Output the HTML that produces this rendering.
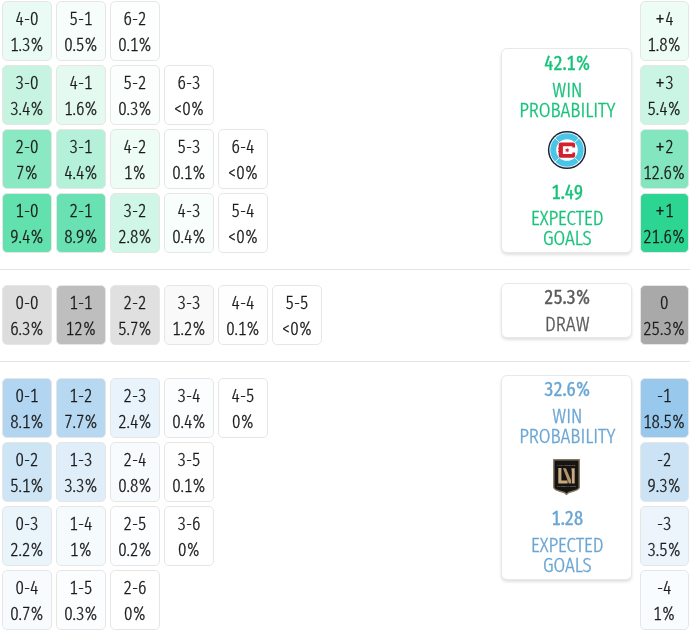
<!DOCTYPE html>
<html><head><meta charset="utf-8"><style>
html,body{margin:0;padding:0;background:#fff;width:690px;height:632px;overflow:hidden;position:relative}
body{font-family:'Fira Sans Extra Condensed', 'Liberation Sans Narrow', 'Liberation Sans', sans-serif;color:#1a1a1a}
#root{position:absolute;left:0;top:0;width:690px;height:632px;will-change:transform}
.c{position:absolute;width:50px;box-sizing:border-box;border:1px solid #e6e6e6;border-radius:5px;text-align:center;font-size:18.3px;font-weight:300;font-variant-numeric:tabular-nums;-webkit-text-stroke:0.3px currentColor}
.c.r{width:48.5px}
.p{font-style:normal;font-size:23px;position:relative;top:2.2px;line-height:0}
.c span{position:absolute;left:0;right:0;line-height:20px;white-space:nowrap}
.c span:first-child{top:7px}
.c span:last-child{top:32.6px}
.hr{position:absolute;left:0;width:690px;height:1px;background:#e4e4e4}
.box{position:absolute;left:501px;width:130.6px;box-sizing:border-box;background:#fff;border:1px solid #e8e8e8;border-radius:6px;box-shadow:0 2px 3px rgba(0,0,0,0.12);text-align:center}
.box div{position:absolute;left:1px;right:-1px;white-space:nowrap;font-size:20.6px;font-weight:300;line-height:20px;-webkit-text-stroke:0.35px currentColor}
.box div.b{font-weight:400;font-size:19.8px;font-variant-numeric:tabular-nums;-webkit-text-stroke:0.35px currentColor}
.box div.lg{left:calc(50% + 0.7px);right:auto}
.lg svg{display:block}
.home{color:#17c27a}
.away{color:#6aa6d4}
.draw{color:#5a5a5a}
</style></head><body><div id="root">
<div class="c" style="left:2px;top:1px;height:59.5px;background:#e9fbf4"><span>4-0</span><span>1.3%</span></div><div class="c" style="left:56px;top:1px;height:59.5px;background:#f7fdfb"><span>5-1</span><span>0.5%</span></div><div class="c" style="left:110px;top:1px;height:59.5px;background:#fdfffe"><span>6-2</span><span>0.1%</span></div><div class="c" style="left:2px;top:65px;height:59.5px;background:#c6f4e1"><span>3-0</span><span>3.4%</span></div><div class="c" style="left:56px;top:65px;height:59.5px;background:#e4faf1"><span>4-1</span><span>1.6%</span></div><div class="c" style="left:110px;top:65px;height:59.5px;background:#fafefc"><span>5-2</span><span>0.3%</span></div><div class="c" style="left:164px;top:65px;height:59.5px;background:#ffffff"><span>6-3</span><span>&lt;0%</span></div><div class="c" style="left:2px;top:129px;height:59.5px;background:#8ae8c2"><span>2-0</span><span>7%</span></div><div class="c" style="left:56px;top:129px;height:59.5px;background:#b5f0d9"><span>3-1</span><span>4.4%</span></div><div class="c" style="left:110px;top:129px;height:59.5px;background:#eefcf6"><span>4-2</span><span>1%</span></div><div class="c" style="left:164px;top:129px;height:59.5px;background:#fdfffe"><span>5-3</span><span>0.1%</span></div><div class="c" style="left:218px;top:129px;height:59.5px;background:#ffffff"><span>6-4</span><span>&lt;0%</span></div><div class="c" style="left:2px;top:193px;height:59.5px;background:#62e0ad"><span>1-0</span><span>9.4%</span></div><div class="c" style="left:56px;top:193px;height:59.5px;background:#6ae1b2"><span>2-1</span><span>8.9%</span></div><div class="c" style="left:110px;top:193px;height:59.5px;background:#d0f6e7"><span>3-2</span><span>2.8%</span></div><div class="c" style="left:164px;top:193px;height:59.5px;background:#f8fefc"><span>4-3</span><span>0.4%</span></div><div class="c" style="left:218px;top:193px;height:59.5px;background:#ffffff"><span>5-4</span><span>&lt;0%</span></div><div class="c" style="left:2px;top:285px;height:59.5px;background:#dddddd"><span>0-0</span><span>6.3%</span></div><div class="c" style="left:56px;top:285px;height:59.5px;background:#bebebe"><span>1-1</span><span>12%</span></div><div class="c" style="left:110px;top:285px;height:59.5px;background:#e0e0e0"><span>2-2</span><span>5.7%</span></div><div class="c" style="left:164px;top:285px;height:59.5px;background:#f9f9f9"><span>3-3</span><span>1.2%</span></div><div class="c" style="left:218px;top:285px;height:59.5px;background:#fefefe"><span>4-4</span><span>0.1%</span></div><div class="c" style="left:272px;top:285px;height:59.5px;background:#ffffff"><span>5-5</span><span>&lt;0%</span></div><div class="c" style="left:2px;top:378px;height:59.5px;background:#b2d6f1"><span>0-1</span><span>8.1%</span></div><div class="c" style="left:56px;top:378px;height:59.5px;background:#b6d8f1"><span>1-2</span><span>7.7%</span></div><div class="c" style="left:110px;top:378px;height:59.5px;background:#e8f3fb"><span>2-3</span><span>2.4%</span></div><div class="c" style="left:164px;top:378px;height:59.5px;background:#fbfdfe"><span>3-4</span><span>0.4%</span></div><div class="c" style="left:218px;top:378px;height:59.5px;background:#ffffff"><span>4-5</span><span>0%</span></div><div class="c" style="left:2px;top:442px;height:59.5px;background:#cee5f6"><span>0-2</span><span>5.1%</span></div><div class="c" style="left:56px;top:442px;height:59.5px;background:#e0eef9"><span>1-3</span><span>3.3%</span></div><div class="c" style="left:110px;top:442px;height:59.5px;background:#f7fbfe"><span>2-4</span><span>0.8%</span></div><div class="c" style="left:164px;top:442px;height:59.5px;background:#fefeff"><span>3-5</span><span>0.1%</span></div><div class="c" style="left:2px;top:506px;height:59.5px;background:#eaf4fb"><span>0-3</span><span>2.2%</span></div><div class="c" style="left:56px;top:506px;height:59.5px;background:#f5fafd"><span>1-4</span><span>1%</span></div><div class="c" style="left:110px;top:506px;height:59.5px;background:#fdfeff"><span>2-5</span><span>0.2%</span></div><div class="c" style="left:164px;top:506px;height:59.5px;background:#ffffff"><span>3-6</span><span>0%</span></div><div class="c" style="left:2px;top:570px;height:59.5px;background:#f8fbfe"><span>0-4</span><span>0.7%</span></div><div class="c" style="left:56px;top:570px;height:59.5px;background:#fcfdfe"><span>1-5</span><span>0.3%</span></div><div class="c" style="left:110px;top:570px;height:59.5px;background:#ffffff"><span>2-6</span><span>0%</span></div><div class="c r" style="left:640px;top:1px;height:59.5px;background:#eefcf6"><span><i class="p">+</i>4</span><span>1.8%</span></div><div class="c r" style="left:640px;top:65px;height:59.5px;background:#caf4e4"><span><i class="p">+</i>3</span><span>5.4%</span></div><div class="c r" style="left:640px;top:129px;height:59.5px;background:#84e6bf"><span><i class="p">+</i>2</span><span>12.6%</span></div><div class="c r" style="left:640px;top:193px;height:59.5px;background:#2dd592"><span><i class="p">+</i>1</span><span>21.6%</span></div><div class="c r" style="left:640px;top:285px;height:59.5px;background:#a9a9a9"><span>0</span><span>25.3%</span></div><div class="c r" style="left:640px;top:378px;height:59.5px;background:#98c8ec"><span>-1</span><span>18.5%</span></div><div class="c r" style="left:640px;top:442px;height:59.5px;background:#cbe3f5"><span>-2</span><span>9.3%</span></div><div class="c r" style="left:640px;top:506px;height:59.5px;background:#ecf5fb"><span>-3</span><span>3.5%</span></div><div class="c r" style="left:640px;top:570px;height:59.5px;background:#f9fcfe"><span>-4</span><span>1%</span></div>
<div class="hr" style="top:269px"></div>
<div class="hr" style="top:361px"></div>
<div class="box home" style="top:48px;height:204.5px">
 <div class="b" style="top:3.8px">42.1%</div>
 <div style="top:30.6px">WIN</div>
 <div style="top:50.6px">PROBABILITY</div>
 <div class="lg" style="top:81.3px;margin-left:-20.0px;width:40px;height:40px"><svg width="40" height="40" viewBox="0 0 40 40">
<circle cx="20" cy="20" r="19.1" fill="#1c2434"/>
<circle cx="20" cy="20" r="17.6" fill="#ffffff"/>
<circle cx="20" cy="20" r="16.7" fill="#48c5e7"/>
<circle cx="20" cy="20" r="10.8" fill="#ffffff"/>
<g stroke="#ffffff" stroke-width="0.8"><line x1="7.9" y1="7.9" x2="12.5" y2="12.5"/><line x1="32.1" y1="7.9" x2="27.5" y2="12.5"/><line x1="7.9" y1="32.1" x2="12.5" y2="27.5"/><line x1="32.1" y1="32.1" x2="27.5" y2="27.5"/></g>
<path d="M13.70 12.50 H26.10 Q28.10 12.50 28.10 14.50 V17.40 H25.30 V16.30 H15.90 V24.00 H25.30 V22.60 H28.10 V25.80 Q28.10 27.80 26.10 27.80 H13.70 Q11.70 27.80 11.70 25.80 V22.40 L11.20 21.90 V20.90 L11.70 20.40 V19.60 L11.20 19.10 V18.10 L11.70 17.60 V14.50 Q11.70 12.50 13.70 12.50 Z" fill="#d2202f"/>
<path d="M20.20 17.70 L20.77 19.20 L22.37 18.95 L21.35 20.20 L22.37 21.45 L20.77 21.20 L20.20 22.70 L19.62 21.20 L18.03 21.45 L19.05 20.20 L18.03 18.95 L19.62 19.20 Z" fill="#d2202f"/>
</svg></div>
 <div class="b" style="top:133.2px">1.49</div>
 <div style="top:158.6px">EXPECTED</div>
 <div style="top:178.8px">GOALS</div>
</div>
<div class="box draw" style="top:282.6px;height:55.4px">
 <div class="b" style="top:3.4px">25.3%</div>
 <div style="top:30.1px">DRAW</div>
</div>
<div class="box away" style="top:375px;height:204.5px">
 <div class="b" style="top:3.0px">32.6%</div>
 <div style="top:29.8px">WIN</div>
 <div style="top:50.1px">PROBABILITY</div>
 <div class="lg" style="top:83.2px;margin-left:-13.5px;width:27px;height:37px"><svg width="27" height="37" viewBox="0 0 27 37">
<path d="M0.8 0.8 H26.2 V28.6 C26.2 31 21.5 32.2 15.8 33.5 L13.5 35.4 L11.2 33.5 C5.5 32.2 0.8 31 0.8 28.6 Z" fill="#141414" stroke="#86785f" stroke-width="1.4"/>
<text x="13.5" y="7" font-size="2.5" fill="#9c8662" text-anchor="middle" font-family="Liberation Sans, sans-serif" font-weight="bold">LOS ANGELES</text>
<path d="M5.3 9 H8.4 V21.5 H14.6 V24.5 H5.3 Z" fill="#c8aa7e"/>
<path d="M10 9.2 H12.9 L18 21 V24.5 H15.8 Z" fill="#b49468"/>
<path d="M18.4 9.2 H21.7 V24.5 H18.8 V13.2 Z" fill="#c8aa7e"/>
<text x="13.5" y="28.4" font-size="2.2" fill="#9c8662" text-anchor="middle" font-family="Liberation Sans, sans-serif" font-weight="bold">FOOTBALL CLUB</text>
</svg></div>
 <div class="b" style="top:132.2px">1.28</div>
 <div style="top:159.0px">EXPECTED</div>
 <div style="top:178.8px">GOALS</div>
</div>
</div></body></html>
